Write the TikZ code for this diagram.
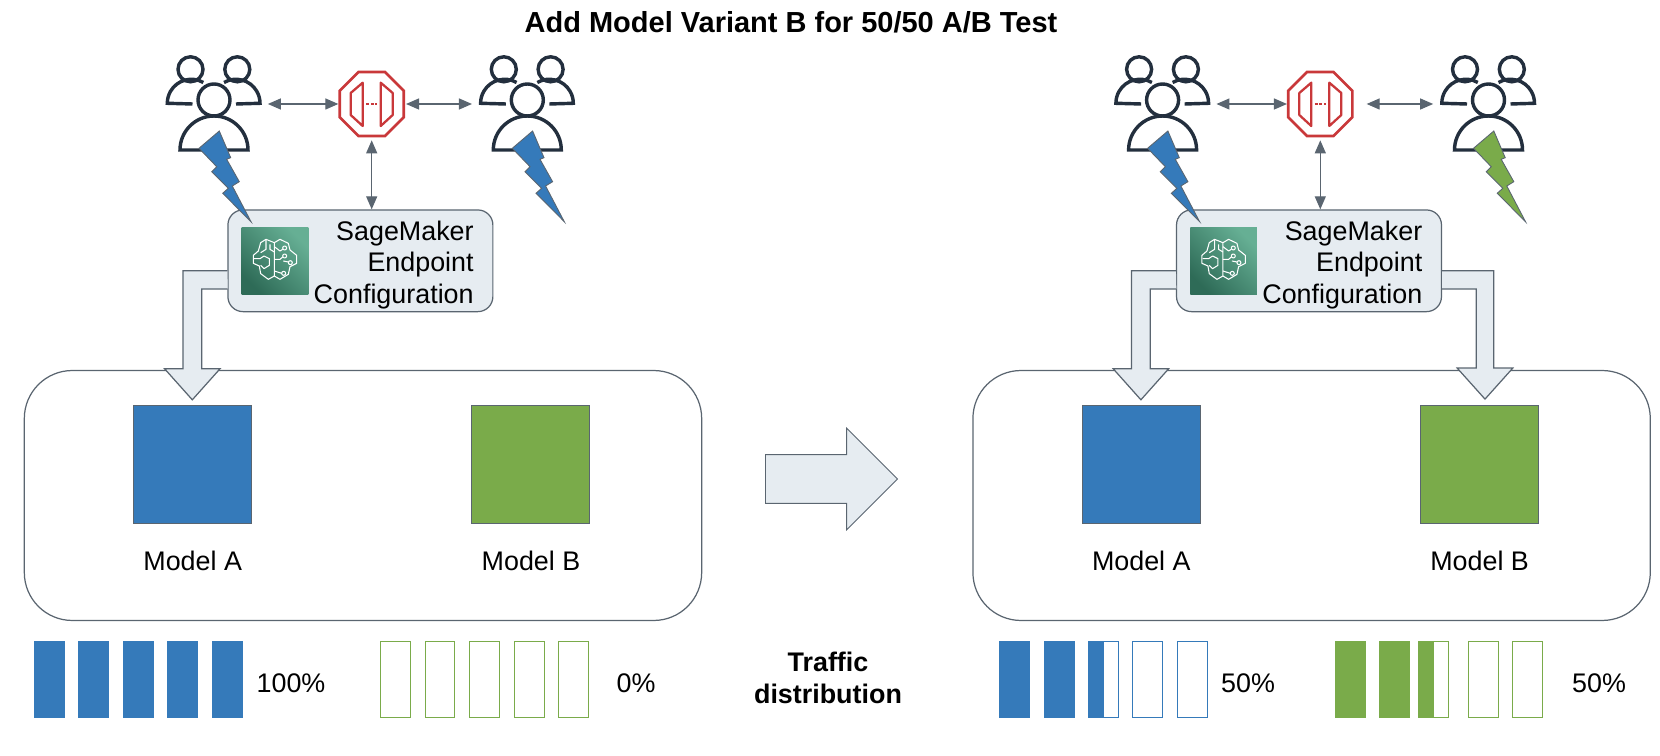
\documentclass[tikz,border=0pt]{standalone}
\usepackage{fontspec}
\setmainfont{Liberation Sans}
\usetikzlibrary{arrows.meta,shapes.geometric,shapes.arrows}
\definecolor{inkdark}{HTML}{232F3E}
\definecolor{linkgray}{HTML}{5A6570}
\definecolor{panelfill}{HTML}{E6ECF1}
\definecolor{modelblue}{HTML}{357ABA}
\definecolor{modelgreen}{HTML}{7AAB4A}
\definecolor{gatered}{HTML}{C9383A}
\definecolor{icondark}{HTML}{2E6B57}
\definecolor{iconlight}{HTML}{66AF94}
\tikzset{
  caption/.style={font=\fontsize{15.3}{18.2}\selectfont,inner sep=0pt,align=center},
  headline/.style={caption,font=\fontsize{16.5}{18.2}\selectfont\bfseries},
  usersbox/.style={minimum width=2.1cm,minimum height=2cm,inner sep=0pt},
  gatebox/.style={regular polygon,regular polygon sides=8,minimum size=1.386cm,inner sep=0pt,
    draw=gatered,line width=1.5pt},
  cfgbox/.style={draw=linkgray,fill=panelfill,rounded corners=.3cm,line width=.7pt,minimum height=2.034cm,
    minimum width=5.3cm,inner sep=0pt},
  iconbox/.style={minimum size=1.332cm,inner sep=0pt,bottom color=icondark,top color=iconlight,
    shading angle=-45},
  holder/.style={draw=linkgray,line width=.7pt,rounded corners=.96cm},
  modelbox/.style={draw=linkgray,fill=#1,line width=.5pt,minimum size=2.36cm,inner sep=0pt},
  barbox/.style={draw=#1,line width=.5pt,minimum width=.6cm,minimum height=1.52cm,inner sep=0pt,anchor=north west},
  link/.style={{Triangle[length=.26cm,width=.22cm]}-{Triangle[length=.26cm,width=.22cm]},
    draw=linkgray,line width=.7pt},
  flowarrow/.style={draw=linkgray,fill=panelfill,line width=.7pt},
  pics/users/.style={code={
    \begin{scope}[draw=inkdark,line width=1.95pt]
      \draw (-23.5,-34.7) circle [radius=12.5];
      \draw (23.3,-34.7) circle [radius=12.5];
      \draw (0,-4) circle [radius=16];
      \draw (-10.7,-21.5) arc [start angle=300,end angle=180,radius=24] -- (-21.5,0);
      \draw (10,-21.5) arc [start angle=240,end angle=360,radius=24] -- (22,0);
      \draw (-34,46) arc [start angle=180,end angle=360,radius=34] -- cycle;
    \end{scope}
  }},
  pics/bolt/.style={code={
    \draw[draw=linkgray,fill=#1,line width=.5pt] (-15,44.3) -- (5.3,27) -- (16.7,53.7) -- (12.7,55.3)
      -- (25.3,77.7) -- (18.3,82) -- (37,117.7) -- (8.7,89.3) -- (14.3,84.3) -- (-2.3,67.7) -- (2.7,62.7) -- cycle;
  }},
  pics/doors/.style={code={
    \begin{scope}[draw=gatered,line width=1.3pt,line join=round]
      \draw (-9,-21.3) -- (-21,-11) -- (-21,11) -- (-9,22) -- cycle;
      \draw (9,-21.3) -- (21,-11) -- (21,11) -- (9,22) -- cycle;
      \draw[line width=1.5pt,dash pattern=on 1.7pt off .9pt] (-5.5,0) -- (5.5,0);
    \end{scope}
  }},
  pics/brain/.style={code={
    \begin{scope}[scale=1/3,shift={(-105,-105)},draw=white,line width=.6pt,line join=round]
      \draw (103,50) -- (78,40) -- (62,50) -- (55,75) -- (40,88) -- (40,112) -- (58,120) -- (62,143)
        -- (85,160) -- (103,150) -- (120,160) -- (145,145) -- (150,122) -- (170,112) -- (170,88)
        -- (150,72) -- (145,52) -- (120,40) -- (103,50) -- (103,150);
      \draw (78,42) -- (78,70) -- (62,80);
      \draw (42,98) -- (60,98) -- (72,90) -- (88,98) -- (88,118) -- (72,128) -- (62,118);
      \draw (103,78) -- (90,70) -- (90,55);
      \draw (103,62) -- (120,75) -- (128,70);
      \draw (103,100) -- (120,100) -- (128,93);
      \draw (130,105) -- (145,108);
      \draw (103,135) -- (125,142);
      \draw (134,66) circle [radius=6] (134,90) circle [radius=6] (151,110) circle [radius=6]
        (131,142) circle [radius=6];
    \end{scope}
  }},
}
\begin{document}
\begin{tikzpicture}[x=.02cm,y=-.02cm]
  \useasboundingbox (0,0) rectangle (1660,756);
  \node[headline] (title) at (791,22) {Add Model Variant B for 50/50 A/B Test};

  \foreach \side/\dx/\farx/\gap/\farcol in {L/0/0/.02/modelblue,R/948.6/12.6/.26/modelgreen} {
    \begin{scope}[shift={(\dx,0)}]
      \node[holder,minimum width=13.55cm,minimum height=5cm] (holder\side) at (363,495.5) {};
      \node[modelbox=modelblue] (modelA\side) at (192.7,464.2) {};
      \node[modelbox=modelgreen] (modelB\side) at (530.8,464.2) {};
      \node[caption] (nameA\side) at (192.7,561) {Model A};
      \node[caption] (nameB\side) at (531,561) {Model B};

      \node[usersbox] (usersA\side) at (214,104) {};
      \node[usersbox] (usersB\side) at (527.3+\farx,104) {};
      \node[gatebox] (gate\side) at (371.7,104) {};
      \node[cfgbox] (cfg\side) at (360.4,260.8) {};
      \node[caption,align=right,anchor=east] (cfgname\side) at ([xshift=-.39cm,yshift=-.085cm]cfg\side.east)
        {SageMaker\\Endpoint\\Configuration};
      \node[iconbox] (icon\side) at (275,261) {};

      \pic at (usersA\side) {users};
      \pic at (usersB\side) {users};
      \pic at (gate\side) {doors};
      \pic at (icon\side) {brain};
      \draw[link] ([xshift=.02cm]usersA\side.east) -- (gate\side.west);
      \draw[link,shorten >=.05cm] ([xshift=\gap cm]gate\side.east) -- (usersB\side.west);
      \draw[link] ([yshift=-.06cm]gate\side.south) -- (gate\side.south |- cfg\side.north);
      \draw[flowarrow] (cfg\side.west) ++(0,10) -- ++(-44.4,0) -- ++(0,98) -- ++(-18.3,0)
        -- ++(27.7,31) -- ++(27.7,-31) -- ++(-18.3,0) -- ++(0,-79.7) -- ++(26,0);
      \pic at (usersA\side) {bolt=modelblue};
      \pic at (usersB\side) {bolt=\farcol};
    \end{scope}
  }
  % second arrow only after the variant is added
  \draw[flowarrow] (cfgR.east) ++(0,10) -- ++(51.7,0) -- ++(0,97.3) -- ++(19,0)
    -- ++(-27.8,31) -- ++(-27.8,-31) -- ++(19,0) -- ++(0,-79) -- ++(-34,0);

  \node[draw=linkgray,fill=panelfill,line width=.5pt,single arrow,single arrow head extend=.526cm,
    single arrow head indent=0cm,minimum height=2.64cm,inner xsep=0pt,inner ysep=.48cm] (move) at (819.2,479) {};

  % traffic bars
  \foreach \x [count=\i] in {34,78.4,122.8,167.3,211.7}
    \node[barbox=modelblue,fill=modelblue] (trafficA\i) at (\x,641) {};
  \foreach \x [count=\i] in {380,424.5,469,513.5,558}
    \node[barbox=modelgreen] (trafficB\i) at (\x,641) {};
  \foreach \x/\c [count=\i] in {999/modelblue,1043.5/modelblue,1088/white,1132.4/white,1177/white}
    \node[barbox=modelblue,fill=\c] (trafficC\i) at (\x,641) {};
  \foreach \x/\c [count=\i] in {1334.5/modelgreen,1378.8/modelgreen,1418/white,1468/white,1512/white}
    \node[barbox=modelgreen,fill=\c] (trafficD\i) at (\x,641) {};
  \fill[modelblue] (1088,641) rectangle (1104,717);
  \fill[modelgreen] (1418,641) rectangle (1434,717);

  \node[caption] (shareA) at (291,683) {100\%};
  \node[caption] (shareB) at (636,683) {0\%};
  \node[caption] (shareC) at (1248,683) {50\%};
  \node[caption] (shareD) at (1599,683) {50\%};
  \node[caption,font=\fontsize{15.3}{18}\selectfont\bfseries] (traffic) at (828,678) {Traffic\\distribution};
\end{tikzpicture}
\end{document}
